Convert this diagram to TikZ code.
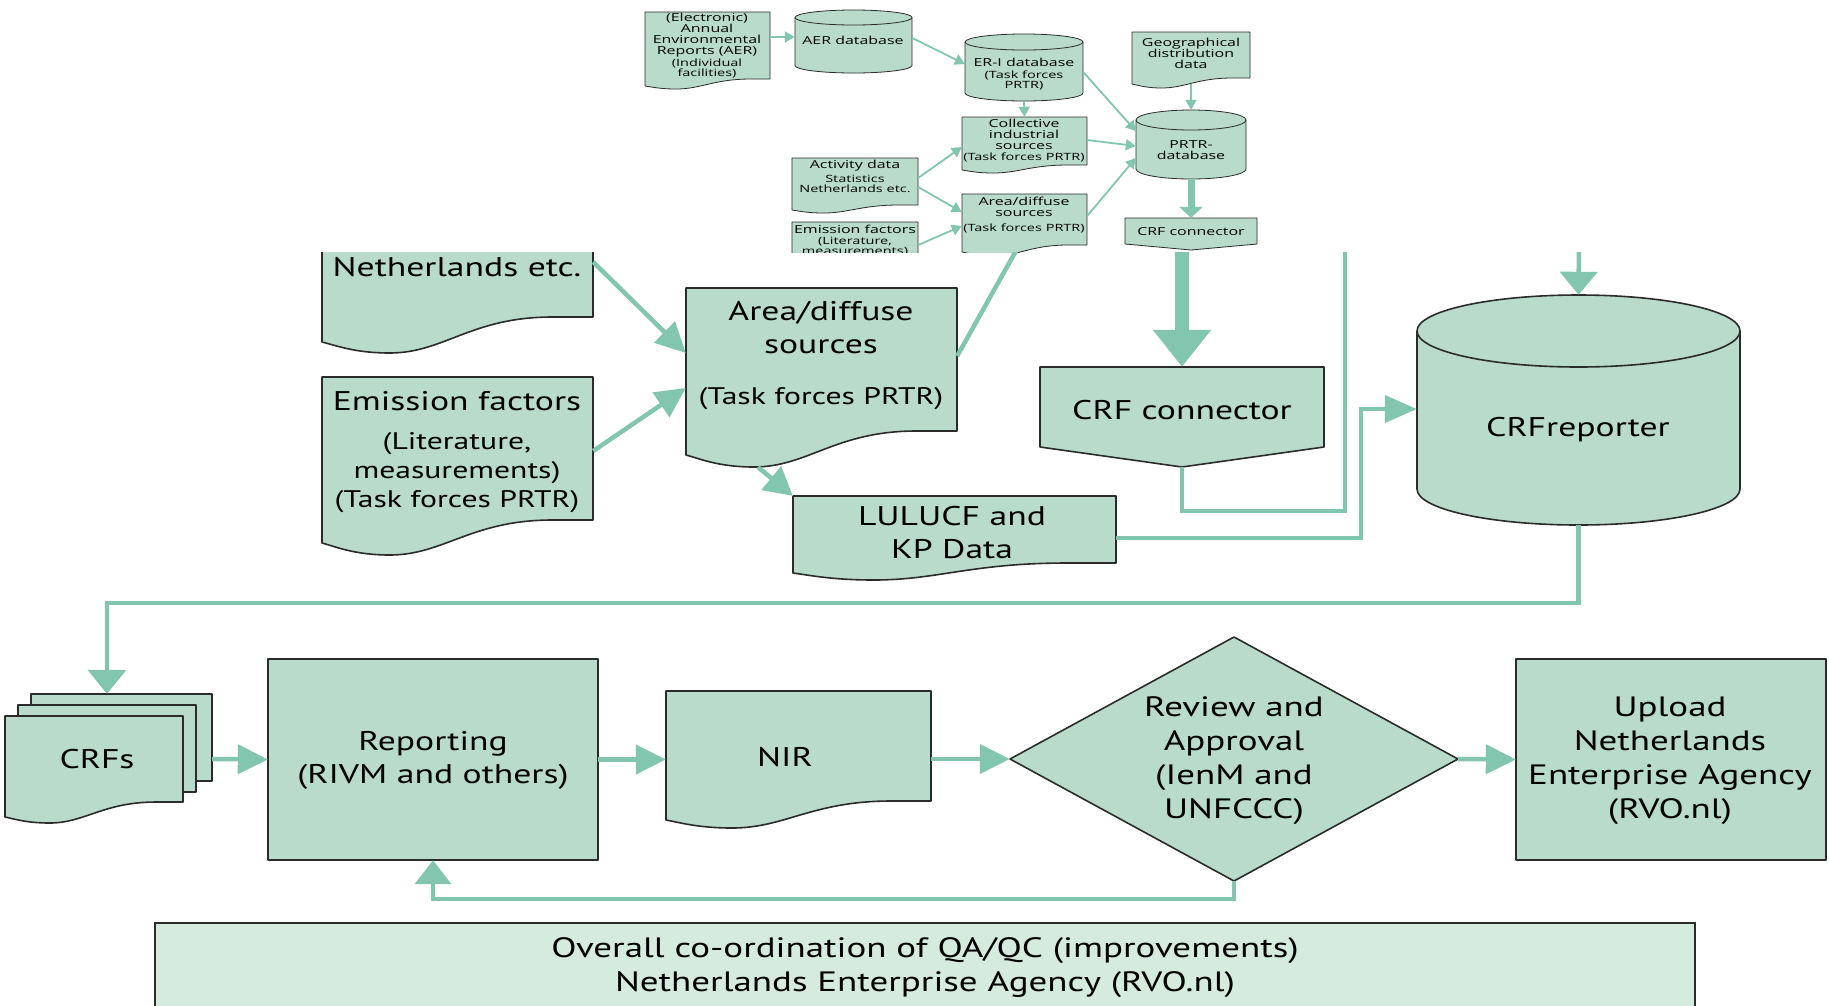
\documentclass[tikz,border=0pt]{standalone}
\usepackage{fontspec}
\setmainfont{PT Sans}[FakeStretch=1.32]
\newfontfamily\insetfont[FakeStretch=1.45]{Open Sans}
\usetikzlibrary{arrows.meta,fit}
\definecolor{fillc}{HTML}{B8DBCB}
\definecolor{linec}{HTML}{83C6B0}
\definecolor{qafill}{HTML}{D4EBDE}
\definecolor{outc}{HTML}{2B2B2B}
% document shape: #2 x1, #3 ytop, #4 x2, #5 y left bottom, #6 y lowest, #7 y right bottom
\newcommand{\docshape}[7][]{%
  \pgfmathsetmacro\dw{#4-#2}%
  \path[#1] (#2,#3) -- (#4,#3) -- (#4,#7) -- ({#4-0.15*\dw},#7)
    .. controls ({#2+0.55*\dw},#7) and ({#2+0.45*\dw},#6) .. ({#2+0.25*\dw},#6)
    .. controls ({#2+0.12*\dw},#6) and ({#2+0.05*\dw},{#5+0.3*(#6-#5)}) .. (#2,#5) -- cycle;}
% cylinder: #2 x1, #3 x2, #4 ytop, #5 ybottom, #6 ry
\newcommand{\cylshape}[6][]{%
  \pgfmathsetmacro\cxa{(#2+#3)/2}%
  \pgfmathsetmacro\rxa{(#3-#2)/2}%
  \pgfmathsetmacro\cta{#4+#6}%
  \pgfmathsetmacro\cba{#5-#6}%
  \pgfmathsetmacro\kx{0.5523*\rxa}%
  \pgfmathsetmacro\ky{0.5523*#6}%
  \path[#1] (#2,\cta) -- (#2,\cba)
    .. controls (#2,{\cba+\ky}) and ({\cxa-\kx},#5) .. (\cxa,#5)
    .. controls ({\cxa+\kx},#5) and (#3,{\cba+\ky}) .. (#3,\cba)
    -- (#3,\cta)
    .. controls (#3,{\cta-\ky}) and ({\cxa+\kx},#4) .. (\cxa,#4)
    .. controls ({\cxa-\kx},#4) and (#2,{\cta-\ky}) .. (#2,\cta) -- cycle;
  \path[#1,fill=none] (#2,\cta)
    .. controls (#2,{\cta+\ky}) and ({\cxa-\kx},{\cta+#6}) .. (\cxa,{\cta+#6})
    .. controls ({\cxa+\kx},{\cta+#6}) and (#3,{\cta+\ky}) .. (#3,\cta);}
\tikzset{
  shp/.style={fill=fillc,draw=outc,line width=1.6pt,line join=round},
  ishp/.style={fill=fillc,draw=outc,line width=0.8pt,line join=round},
  area/.style={inner sep=0pt},
  bigt/.style={font=\fontsize{27}{33}\selectfont,align=center,inner sep=0pt,text=black},
  bigs/.style={font=\fontsize{24}{29}\selectfont,align=center,inner sep=0pt,text=black},
  lowt/.style={font=\fontsize{28}{34}\selectfont,align=center,inner sep=0pt,text=black},
  itx/.style={font=\insetfont\fontsize{11}{11}\selectfont,align=center,inner sep=0pt,text=black},
  isx/.style={font=\insetfont\fontsize{10}{10}\selectfont,align=center,inner sep=0pt,text=black},
  cln/.style={draw=linec,line width=4.5pt},
  car/.style={draw=linec,line width=4.5pt,-{Triangle[length=30pt,width=29pt]}},
  iar/.style={draw=linec,line width=1.8pt,-{Triangle[length=10pt,width=11pt]}},
}
\begin{document}
\begin{tikzpicture}[x=1pt,y=-1pt]
\useasboundingbox (0,0) rectangle (1829,1005);
\fill[white] (0,0) rectangle (1829,1005);

% ================= inset (top) =================
\begin{scope}
\clip (0,0) rectangle (1829,252);
\docshape[ishp]{645}{12}{770}{86}{89}{79}
\node[fit={(645,12)(770,89)},area] (aerdoc) {};
\node[itx] (aerdoc-t) at (707,35) {(Electronic)\\Annual\\Environmental\\Reports (AER)};
\node[isx] (aerdoc-s) at (707,68) {(Individual\\facilities)};

\cylshape[ishp]{795}{912}{10}{73}{7.5}
\node[fit={(795,10)(912,73)},area] (aerdb) {};
\node[itx] (aerdb-t) at (853,40) {AER database};

\cylshape[ishp]{965}{1083}{34}{101}{8}
\node[fit={(965,34)(1083,101)},area] (erdb) {};
\node[itx] (erdb-t) at (1024,62) {ER-I database};
\node[isx] (erdb-s) at (1024,80) {(Task forces\\PRTR)};

\docshape[ishp]{962}{117}{1087}{170}{173}{165}
\node[fit={(962,117)(1087,173)},area] (coll) {};
\node[itx] (coll-t) at (1024,134) {Collective\\industrial\\sources};
\node[isx] (coll-s) at (1024,157) {(Task forces PRTR)};

\docshape[ishp]{792}{158}{918}{210}{213}{205}
\node[fit={(792,158)(918,213)},area] (act) {};
\node[itx] (act-t) at (855,166) {Activity data};
\node[isx] (act-s) at (855,184) {Statistics\\Netherlands etc.};

\docshape[ishp]{792}{222}{918}{290}{295}{285}
\node[fit={(792,222)(918,290)},area] (emi) {};
\node[itx] (emi-t) at (855,229) {Emission factors};
\node[isx] (emi-s) at (855,247) {(Literature,\\measurements)};

\docshape[ishp]{962}{194}{1087}{252}{256}{245}
\node[fit={(962,194)(1087,256)},area] (areai) {};
\node[itx] (areai-t) at (1024,207) {Area/diffuse\\sources};
\node[isx] (areai-s) at (1024,228) {(Task forces PRTR)};

\docshape[ishp]{1132}{32}{1250}{84}{88}{78}
\node[fit={(1132,32)(1250,88)},area] (geo) {};
\node[itx] (geo-t) at (1191,53) {Geographical\\distribution\\data};

\cylshape[ishp]{1136}{1246}{110}{179}{10}
\node[fit={(1136,110)(1246,179)},area] (prtr) {};
\node[itx] (prtr-t) at (1191,150) {PRTR-\\database};

\path[ishp] (1125,218) -- (1257,218) -- (1257,244) -- (1191,250) -- (1125,244) -- cycle;
\node[fit={(1125,218)(1257,250)},area] (crfsm) {};
\node[itx] (crfsm-t) at (1191,232) {CRF connector};

\draw[iar] (aerdoc.east |- 0,37) -- (aerdb.west |- 0,37);
\draw[iar] (aerdb.east |- 0,38) -- (erdb.west |- 0,64);
\draw[iar] (erdb.south) -- (coll.north);
\draw[iar] (erdb.east |- 0,72) -- (prtr.west |- 0,131);
\draw[iar] (geo.south |- 0,84) -- (prtr.north);
\draw[iar] (coll.east |- 0,140) -- (prtr.west |- 0,146);
\draw[iar] (act.east |- 0,178) -- (coll.west |- 0,147);
\draw[iar] (act.east |- 0,187) -- (areai.west |- 0,212);
\draw[iar] (emi.east |- 0,245) -- (areai.west |- 0,226);
\draw[iar] (areai.east |- 0,216) -- (prtr.west |- 0,158);
\draw[draw=linec,line width=7pt,-{Triangle[length=11pt,width=23pt]}] (prtr.south) -- (crfsm.north);
\end{scope}

% ================= main diagram =================
\coordinate (cut1) at (1022,240);
\coordinate (cut2) at (1182,240);
\coordinate (cut3) at (1345,240);
\coordinate (cut4) at (1579,240);
\begin{scope}
\clip (0,252) rectangle (1829,1005);
\docshape[shp]{322}{200}{593}{342}{353}{317}
\node[fit={(322,252)(593,353)},area] (net) {};
\node[bigt] (net-t) at (457,267) {Netherlands etc.};

\docshape[shp]{322}{377}{593}{543}{555}{520}
\node[fit={(322,377)(593,555)},area] (emis) {};
\node[bigt] (emis-t) at (457,401) {Emission factors};
\node[bigs] (emis-s) at (457,473) {(Literature,\\measurements)\\(Task forces PRTR)};

\docshape[shp]{686}{288}{957}{455}{467}{431}
\node[fit={(686,288)(957,467)},area] (area) {};
\node[bigt] (area-t) at (821,328) {Area/diffuse\\sources};
\node[bigs] (area-s) at (821,399) {(Task forces PRTR)};

\docshape[shp]{793}{496}{1116}{573}{580}{563}
\node[fit={(793,496)(1116,580)},area] (lulucf) {};
\node[bigt] (lulucf-t) at (952,533) {LULUCF and\\KP Data};

\path[shp] (1040,367) -- (1324,367) -- (1324,447) -- (1182,467) -- (1040,447) -- cycle;
\node[fit={(1040,367)(1324,467)},area] (crfc) {};
\node[bigt] (crfc-t) at (1182,410) {CRF connector};

\cylshape[shp]{1417}{1740}{295}{525}{36}
\node[fit={(1417,295)(1740,525)},area] (crfrep) {};
\node[bigt] (crfrep-t) at (1578,430) {CRFreporter};

\path[shp] (31,694) rectangle (212,781);
\path[shp] (18,705) rectangle (196,792);
\docshape[shp]{5}{716}{183}{817}{823}{802}
\node[fit={(31,694)(212,781)},area] (crfsback) {};
\node[fit={(5,716)(183,823)},area] (crfs) {};
\node[bigt] (crfs-t) at (97,759) {CRFs};

\path[shp] (268,659) rectangle (598,860);
\node[fit={(268,659)(598,860)},area] (rep) {};
\node[bigt] (rep-t) at (433,760) {Reporting\\(RIVM and others)};

\docshape[shp]{666}{691}{931}{820}{828}{801}
\node[fit={(666,691)(931,828)},area] (nir) {};
\node[bigt] (nir-t) at (785,757) {NIR};

\path[shp] (1010,759) -- (1234,637) -- (1458,759) -- (1234,881) -- cycle;
\node[fit={(1010,637)(1458,881)},area] (dia) {};
\node[lowt] (dia-t) at (1234,761) {Review and\\Approval\\(IenM and\\UNFCCC)};

\path[shp] (1516,659) rectangle (1826,860);
\node[fit={(1516,659)(1826,860)},area] (upl) {};
\node[lowt] (upl-t) at (1670,761) {Upload\\Netherlands\\Enterprise Agency\\(RVO.nl)};

\path[fill=qafill,draw=outc,line width=1.6pt] (155,923) rectangle (1695,1040);
\node[fit={(155,923)(1695,1005)},area] (qa) {};
\node[lowt] (qa-t) at (925,968) {Overall co-ordination of QA/QC (improvements)\\Netherlands Enterprise Agency (RVO.nl)};

% connectors
\draw[car] (net.east |- 0,262) -- (area.west |- 0,353);
\draw[car] (emis.east |- 0,451) -- (area.west |- 0,388);
\draw[car,-{Triangle[length=28pt,width=30pt]}] (area.south -| 758,0) -- (lulucf.north west);
\draw[cln] (area.east |- 0,356) -- (cut1);
\draw[draw=linec,line width=14pt,-{Triangle[length=37pt,width=56pt]}] (cut2) -- (crfc.north);
\draw[cln] (crfc.south) |- (1345,511) -- (cut3);
\draw[car,-{Triangle[length=32pt,width=27pt]}] (lulucf.east |- 0,538) -| (1361,409) -- (crfrep.west |- 0,409);
\draw[car,-{Triangle[length=23pt,width=37pt]}] (cut4) -- (crfrep.north);
\draw[car,-{Triangle[length=24pt,width=38pt]}] (crfrep.south) |- (107,603) -- (crfsback.north -| 107,0);
\draw[car] (crfsback.east |- 0,759) -- (rep.west);
\draw[car] (rep.east) -- (nir.west);
\draw[car] (nir.east |- 0,759) -- (dia.west);
\draw[car] (dia.east) -- (upl.west);
\draw[car,-{Triangle[length=24pt,width=36pt]}] (dia.south) |- (433,899) -- (rep.south -| 433,0);
\end{scope}
\end{tikzpicture}
\end{document}
